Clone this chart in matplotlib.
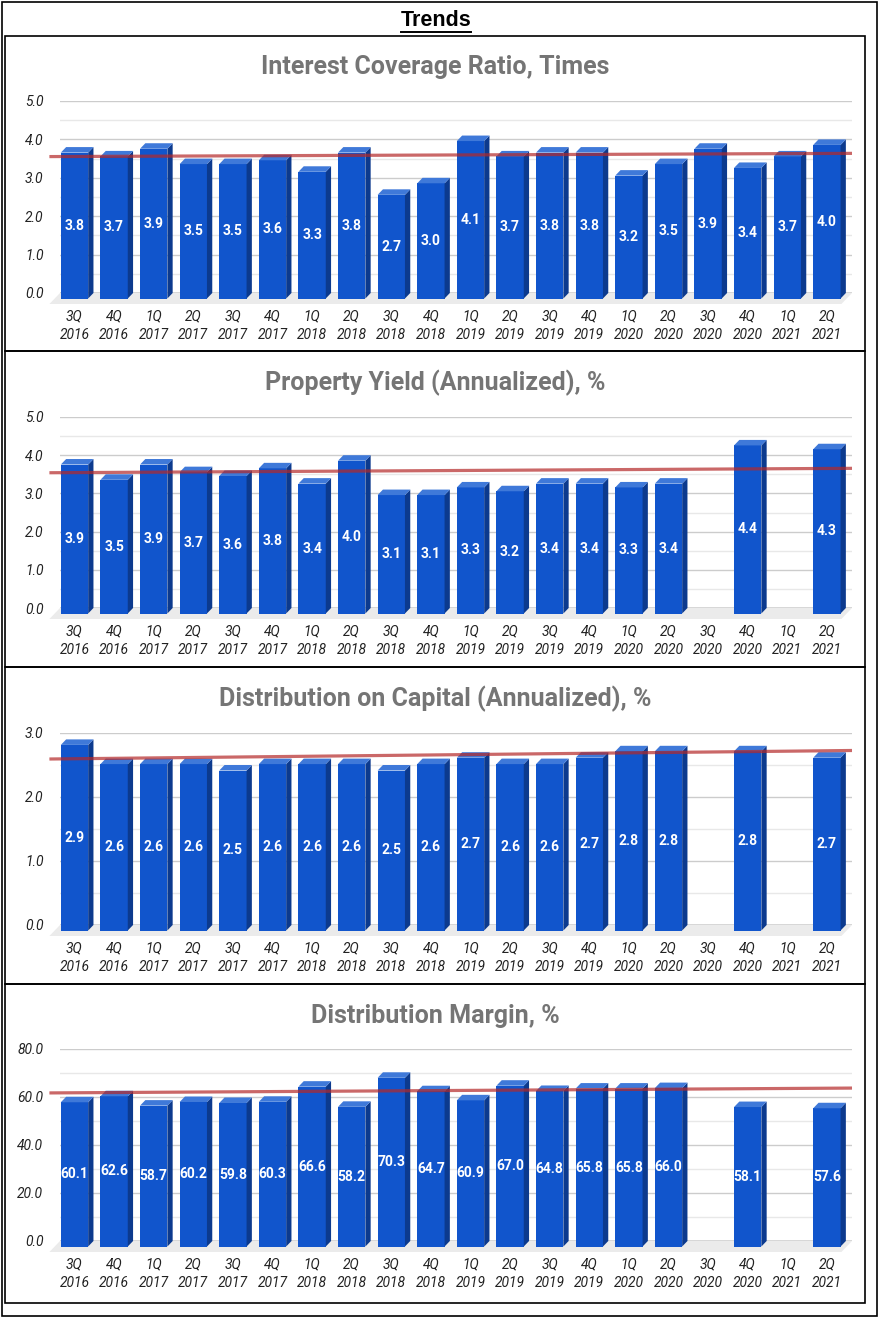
import numpy as np
import matplotlib
matplotlib.use("Agg")
import matplotlib.pyplot as plt
from matplotlib.patches import Rectangle, Polygon
from matplotlib.lines import Line2D

quarters = ["3Q\n2016", "4Q\n2016", "1Q\n2017", "2Q\n2017", "3Q\n2017", "4Q\n2017",
            "1Q\n2018", "2Q\n2018", "3Q\n2018", "4Q\n2018", "1Q\n2019", "2Q\n2019",
            "3Q\n2019", "4Q\n2019", "1Q\n2020", "2Q\n2020", "3Q\n2020", "4Q\n2020",
            "1Q\n2021", "2Q\n2021"]

interest_cover = [3.8, 3.7, 3.9, 3.5, 3.5, 3.6, 3.3, 3.8, 2.7, 3.0,
                  4.1, 3.7, 3.8, 3.8, 3.2, 3.5, 3.9, 3.4, 3.7, 4.0]
property_yield = [3.9, 3.5, 3.9, 3.7, 3.6, 3.8, 3.4, 4.0, 3.1, 3.1,
                  3.3, 3.2, 3.4, 3.4, 3.3, 3.4, None, 4.4, None, 4.3]
dist_capital = [2.9, 2.6, 2.6, 2.6, 2.5, 2.6, 2.6, 2.6, 2.5, 2.6,
                2.7, 2.6, 2.6, 2.7, 2.8, 2.8, None, 2.8, None, 2.7]
dist_margin = [60.1, 62.6, 58.7, 60.2, 59.8, 60.3, 66.6, 58.2, 70.3, 64.7,
               60.9, 67.0, 64.8, 65.8, 65.8, 66.0, None, 58.1, None, 57.6]

titles = ["Interest Coverage Ratio, Times", "Property Yield (Annualized), %",
          "Distribution on Capital (Annualized), %", "Distribution Margin, %"]
series = [interest_cover, property_yield, dist_capital, dist_margin]
ymaxes = [5, 5, 3, 80]
ysteps = [1, 1, 1, 20]

W, H = 882, 1320
fig = plt.figure(figsize=(W / 100, H / 100), dpi=100)

FRONT = "#1155cc"
SIDE = "#0c3a8e"
TOP = "#3f79d9"


def fx(x):
    return x / W


def fy(y):
    return 1 - y / H


def box(x0, y0, x1, y1, lw=1.2):
    fig.add_artist(Rectangle((fx(x0), fy(y1)), fx(x1) - fx(x0), fy(y0) - fy(y1),
                             transform=fig.transFigure, fill=False,
                             edgecolor="black", linewidth=lw))


# borders
box(1.5, 1.5, 877, 1316)
panel_edges = [36, 351, 667, 984, 1303]
for k in range(4):
    box(5, panel_edges[k], 865, panel_edges[k + 1])

t = fig.text(fx(436), fy(20), "Trends", ha="center", va="center", fontsize=15.5,
             fontweight="bold", family="Liberation Sans")
fig.canvas.draw()
bb = t.get_window_extent(fig.canvas.get_renderer())
fig.add_artist(Line2D([bb.x0 / W, bb.x1 / W], [fy(31.5), fy(31.5)],
                      transform=fig.transFigure, color="black", linewidth=1.4))

grid_top = [101, 417, 733, 1049]
grid_base = [293, 608, 925, 1241]
title_y = [67, 383, 699, 1016]
X0, X1 = 60, 852
n = len(quarters)
px_x = (X1 - X0) / n
bw = 0.69

for k in range(4):
    vals = series[k]
    ymax = ymaxes[k]
    top, base = grid_top[k], grid_base[k]
    ax = fig.add_axes([fx(X0), fy(base), fx(X1) - fx(X0), fy(top) - fy(base)])
    ax.set_xlim(-0.5, n - 0.5)
    ax.set_ylim(0, ymax)
    for s in ax.spines.values():
        s.set_visible(False)
    px_y = (base - top) / ymax
    dx = 5.3 / px_x
    dy = 5.5 / px_y

    # grid
    step = ysteps[k]
    for v in np.arange(0, ymax + 1e-9, step / 2):
        major = abs(v / step - round(v / step)) < 1e-6
        if v == 0:
            continue
        ax.axhline(v, color="#cccccc" if major else "#e8e8e8", linewidth=1, zorder=0)

    # floor
    ax.add_patch(Polygon([(-0.5, 0), (n - 0.5, 0), (n - 0.5 - 2 * dx, -2 * dy),
                          (-0.5 - 2 * dx, -2 * dy)], closed=True, facecolor="#ebebeb",
                         edgecolor="none", zorder=1, clip_on=False))
    ax.axhline(0, color="#333333", linewidth=1, zorder=1.5)

    for i, v in enumerate(vals):
        if v is None:
            continue
        x0 = i - bw / 2 - dx
        x1 = x0 + bw
        y0, y1 = -dy, v - dy
        ax.add_patch(Rectangle((x0, y0), bw, v, facecolor=FRONT, edgecolor="none",
                               zorder=3, clip_on=False))
        ax.add_patch(Polygon([(x1, y0), (x1 + dx, 0), (x1 + dx, v), (x1, y1)],
                             facecolor=SIDE, edgecolor="none", zorder=3, clip_on=False))
        ax.add_patch(Polygon([(x0, y1), (x0 + dx, v), (x1 + dx, v), (x1, y1)],
                             facecolor=TOP, edgecolor="none", zorder=3, clip_on=False))
        ax.text(i - dx, v / 2 - dy, f"{v:.1f}", ha="center", va="center",
                color="white", fontsize=10, fontweight="bold", family="Roboto", zorder=5)

    # linear trendline
    idx = np.array([i for i, v in enumerate(vals) if v is not None])
    yv = np.array([v for v in vals if v is not None])
    m, c = np.polyfit(idx, yv, 1)
    xs = np.array([-0.5 - 2 * dx, n - 0.5])
    ax.plot(xs, m * xs + c, color="#b42828", alpha=0.7, linewidth=2.3, zorder=4,
            clip_on=False, solid_capstyle="butt")

    ax.set_yticks(np.arange(0, ymax + 1e-9, step))
    ax.set_yticklabels([f"{v:.1f}" for v in np.arange(0, ymax + 1e-9, step)],
                       fontstyle="italic", fontsize=10, color="#222222", family="Roboto")
    ax.tick_params(axis="y", length=0, pad=12)
    ax.set_xticks(np.arange(n) - dx)
    ax.set_xticklabels(quarters, fontstyle="italic", fontsize=10, color="#222222",
                       family="Roboto", linespacing=1.35)
    ax.tick_params(axis="x", length=0, pad=12)

    fig.text(fx(435), fy(title_y[k]), titles[k], ha="center", va="center",
             fontsize=18, fontweight="bold", color="#757575", family="Roboto")

fig.savefig("out.png", dpi=100)
